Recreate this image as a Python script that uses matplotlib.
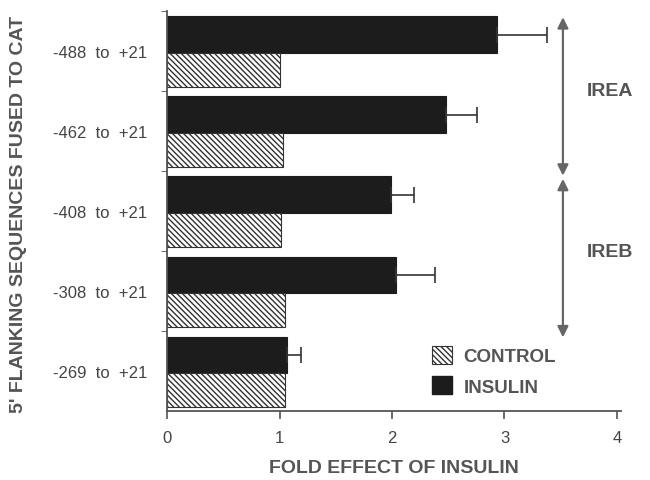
import numpy as np
import matplotlib.pyplot as plt
from matplotlib.patches import Patch

# data
constructs = ['-488  to  +21', '-462  to  +21', '-408  to  +21',
              '-308  to  +21', '-269  to  +21']
insulin = [2.93, 2.48, 1.99, 2.04, 1.07]
insulin_err = [0.45, 0.28, 0.21, 0.34, 0.12]
control = [1.0, 1.03, 1.01, 1.05, 1.05]
xticks = [0, 1, 2, 3, 4]

grey = '#555555'
dark = '#1c1c1c'
hatch = '\\\\\\\\\\\\'
plt.rcParams['font.family'] = ['Liberation Sans', 'DejaVu Sans']
plt.rcParams['hatch.linewidth'] = 1.0

fig = plt.figure(figsize=(6.5, 4.81), dpi=100)
ax = fig.add_axes([0.257, 0.1435, 0.699, 0.832])

y = np.arange(len(constructs))
ax.barh(y - 0.2, insulin, height=0.46, color=dark, edgecolor=dark, linewidth=0.8)
ax.errorbar(insulin, y - 0.2, xerr=[np.zeros(len(insulin)), insulin_err],
            fmt='none', ecolor='#333333', elinewidth=1.2, capsize=6, capthick=1.2)
ax.barh(y + 0.24, control, height=0.42, color='white', edgecolor='#333333',
        hatch=hatch, linewidth=0.8)

ax.set_xlim(0, 4.04)
ax.set_ylim(4.5, -0.5)

# group labels in the middle, tick marks at the borders between groups
ax.set_yticks(y)
ax.set_yticklabels(constructs, fontsize=12, color='#444444')
ax.tick_params(axis='y', which='major', length=0, pad=14)
ax.set_yticks(np.arange(-0.5, 4.5, 1.0), minor=True)
ax.tick_params(axis='y', which='minor', length=4, color=grey, direction='out')

ax.set_xticks(xticks)
ax.set_xticklabels([str(t) for t in xticks], fontsize=12, color='#444444')
ax.tick_params(axis='x', length=6, color=grey, width=1.2, pad=8)

for s in ['top', 'right']:
    ax.spines[s].set_visible(False)
for s in ['left', 'bottom']:
    ax.spines[s].set_color(grey)
    ax.spines[s].set_linewidth(1.3)

ax.set_xlabel('FOLD EFFECT OF INSULIN', fontsize=14, fontweight='bold',
              color=grey, labelpad=10)
fig.text(0.028, 0.555, "5' FLANKING SEQUENCES FUSED TO CAT", rotation=90,
         ha='center', va='center', fontsize=14, fontweight='bold', color=grey)

# double arrows marking the response elements
for y0, y1 in [(-0.42, 1.56), (1.6, 3.58)]:
    ax.annotate('', xy=(3.52, y0), xytext=(3.52, y1),
                arrowprops=dict(arrowstyle='<|-|>', color='#666666', lw=1.6,
                                mutation_scale=16, shrinkA=0, shrinkB=0))
ax.text(3.94, 0.5, 'IREA', ha='center', va='center', fontsize=14,
        fontweight='bold', color=grey, clip_on=False)
ax.text(3.94, 2.51, 'IREB', ha='center', va='center', fontsize=14,
        fontweight='bold', color=grey, clip_on=False)

handles = [Patch(facecolor='white', edgecolor='#333333', hatch=hatch, linewidth=0.8),
           Patch(facecolor=dark, edgecolor=dark)]
leg = ax.legend(handles, ['CONTROL', 'INSULIN'], loc='upper left',
                bbox_to_anchor=(0.545, 0.205), frameon=False, fontsize=13.5,
                handlelength=1.1, handleheight=1.1, labelspacing=0.6,
                handletextpad=0.6)
for t in leg.get_texts():
    t.set_fontweight('bold')
    t.set_color(grey)

fig.savefig('out.png', dpi=100)
